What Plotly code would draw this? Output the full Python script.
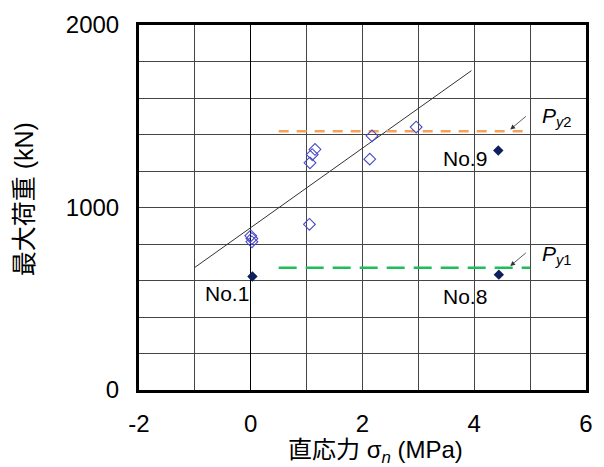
import plotly.graph_objects as go

# Test specimens: normal stress (MPa) vs maximum load (kN)
open_x = [0.0, 0.02, 0.02, 1.05, 1.06, 1.10, 1.15, 2.13, 2.17, 2.96]
open_y = [845, 830, 812, 908, 1245, 1290, 1318, 1265, 1393, 1441]

filled_x = [0.03, 4.43, 4.44]
filled_y = [622, 1312, 632]
filled_names = ["No.1", "No.9", "No.8"]

# Regression line end points
fit_x = [-1.0, 3.95]
fit_y = [672, 1750]

# Yield load levels
py_x = [0.5, 5.0]
py2_y = [1418, 1418]
py1_y = [670, 670]

font_main = "Liberation Sans, Arial, Noto Sans CJK JP, sans-serif"

fig = go.Figure()

fig.add_trace(go.Scatter(
    x=fit_x, y=fit_y, mode="lines",
    line=dict(color="#333333", width=1), showlegend=False))

fig.add_trace(go.Scatter(
    x=py_x, y=py2_y, mode="lines",
    line=dict(color="#F5A25D", width=2.5, dash="10px,8px"), showlegend=False))

fig.add_trace(go.Scatter(
    x=py_x, y=py1_y, mode="lines",
    line=dict(color="#1DBE5A", width=2.5, dash="18px,9px"), showlegend=False))

fig.add_trace(go.Scatter(
    x=open_x, y=open_y, mode="markers",
    marker=dict(symbol="diamond-open", size=9, color="#4848C8",
                line=dict(width=1.1, color="#4848C8")),
    showlegend=False))

fig.add_trace(go.Scatter(
    x=filled_x, y=filled_y, mode="markers",
    marker=dict(symbol="diamond", size=8, color="#0D1F5C"),
    showlegend=False))

# Specimen labels
label_pos = [(-0.42, 527), (3.84, 1268), (3.84, 511)]
for name, (lx, ly) in zip(filled_names, label_pos):
    fig.add_annotation(x=lx, y=ly, text=name, showarrow=False,
                       font=dict(family=font_main, size=21, color="black"))

# Py labels with arrows
for label, yv, ly in [("<i>P</i><sub><i>y</i>2</sub>", py2_y[0], 1497),
                      ("<i>P</i><sub><i>y</i>1</sub>", py1_y[0], 742)]:
    fig.add_annotation(x=4.645, y=yv + 10, ax=4.95, ay=yv + 88,
                       xref="x", yref="y", axref="x", ayref="y",
                       text="", showarrow=True, arrowhead=2, arrowsize=1.2,
                       arrowwidth=0.8, arrowcolor="#333333")
    fig.add_annotation(x=5.17, y=ly, text=label, showarrow=False,
                       xanchor="left",
                       font=dict(family=font_main, size=21, color="black"))

# Axis titles
fig.add_annotation(x=-0.2555, y=0.522, xref="paper", yref="paper",
                   xanchor="center", yanchor="middle",
                   text="最大荷重 (kN)", textangle=-90, showarrow=False,
                   font=dict(family=font_main, size=25, color="black"))
fig.add_annotation(x=0.529, y=-0.168, xref="paper", yref="paper",
                   xanchor="center", yanchor="middle",
                   text="直応力 σ<sub><i>n</i></sub> (MPa)", showarrow=False,
                   font=dict(family=font_main, size=24, color="black"))

fig.update_xaxes(
    range=[-2, 6], tickvals=[-2, 0, 2, 4, 6], ticktext=["-2", "0", "2", "4", "6"],
    showgrid=True, gridcolor="#454545", gridwidth=1,
    minor=dict(dtick=1, showgrid=True, gridcolor="#454545", gridwidth=1),
    zeroline=True, zerolinecolor="black", zerolinewidth=1.3,
    showline=True, linecolor="black", linewidth=3, mirror=True,
    ticks="", ticklabelstandoff=10,
    tickfont=dict(family=font_main, size=24, color="black"))

fig.update_yaxes(
    range=[0, 2000], tickvals=[0, 1000, 2000], ticktext=["0", "1000", "2000"],
    showgrid=True, gridcolor="#454545", gridwidth=1,
    minor=dict(dtick=200, showgrid=True, gridcolor="#454545", gridwidth=1),
    zeroline=False,
    showline=True, linecolor="black", linewidth=3, mirror=True,
    ticks="", ticklabelstandoff=12,
    tickfont=dict(family=font_main, size=24, color="black"))

fig.update_layout(
    width=604, height=467,
    margin=dict(l=139, r=11, t=20, b=77),
    paper_bgcolor="white", plot_bgcolor="white",
    font=dict(family=font_main, color="black"))

fig.write_html("out.html")
